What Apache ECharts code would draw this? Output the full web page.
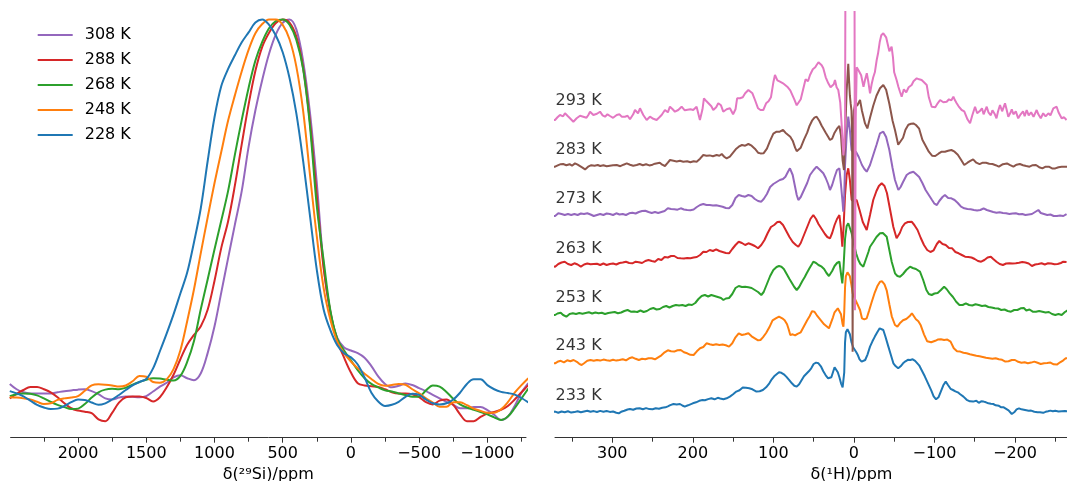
<!DOCTYPE html>
<html><head><meta charset="utf-8">
<script src="https://cdn.jsdelivr.net/npm/echarts@6/dist/echarts.min.js"></script>
<style>html,body{margin:0;padding:0;background:#fff}#c{width:1067px;height:481px}</style>
</head><body><div id="c"></div>
<script>
// ---------- Left panel: 29Si spectra (normalised intensity, %) ----------
const siPpm = [2500,2450,2400,2350,2300,2250,2200,2150,2100,2050,2000,1950,1900,1850,1800,1750,1700,1650,1600,1550,
1500,1450,1400,1350,1300,1250,1200,1150,1100,1050,1000,950,900,850,800,750,700,650,600,550,500,450,400,350,300,250,200,150,100,50,0,
-50,-100,-150,-200,-250,-300,-350,-400,-450,-500,-550,-600,-650,-700,-750,-800,-850,-900,-950,-1000,-1050,-1100,-1150,-1200,-1250,-1300];
const si228 = [1.8,1.2,0.4,-0.7,-1.8,-2.5,-2.9,-2.8,-2.1,-1.1,-0.4,-0.5,-1.2,-1.8,-1.4,-0.4,0.8,2.1,3.3,4.2,
5.0,7.8,12.3,17.0,22.0,27.5,33.0,41.0,50.0,62.3,73.8,82.1,86.6,90.2,93.6,96.2,98.8,99.6,98.2,95.4,91.0,84.2,74.9,62.3,47.9,33.7,23.3,17.8,13.9,11.8,10.7,
8.8,5.4,1.4,-0.9,-2.1,-1.8,-1.0,0.3,1.1,0.8,-0.4,-1.4,-1.7,-1.4,-0.4,1.4,3.7,4.9,4.9,3.4,2.3,1.6,1.3,0.9,0.0,-1.2];
const si248 = [0.2,0.1,-0.1,-0.4,-1.0,-1.6,-1.4,-0.5,-0.1,0.1,0.5,1.9,3.3,3.6,3.5,3.3,3.0,3.3,4.4,5.8,
5.6,4.2,4.0,4.9,7.6,12.5,20.2,28.6,38.2,47.5,56.5,64.8,73.0,79.7,86.0,91.6,96.0,98.4,99.6,99.6,98.2,94.4,87.2,75.5,58.7,42.5,28.9,20.5,14.8,11.8,9.6,
7.8,6.4,5.0,3.7,3.2,3.4,3.7,3.5,2.3,1.2,-0.1,-1.2,-2.3,-2.3,-1.1,-1.1,-1.9,-2.8,-3.4,-3.9,-3.9,-3.0,-1.1,1.4,3.4,5.2];
const si268 = [0.5,1.0,1.2,1.1,0.7,-0.1,-1.0,-1.8,-2.4,-2.9,-2.8,-1.6,0.1,1.5,2.2,2.4,2.3,2.7,3.5,4.2,
4.8,5.2,5.1,4.8,4.6,5.8,9.5,15.0,23.4,31.2,39.1,46.7,54.5,64.1,73.2,81.6,88.8,93.7,97.3,99.2,99.6,98.2,94.2,86.5,71.5,50.5,36.2,22.9,15.6,12.5,9.9,
7.3,5.2,3.7,2.8,2.0,1.7,1.2,0.8,0.3,0.4,2.0,3.3,3.0,1.6,-0.2,-1.7,-2.5,-3.1,-3.7,-4.3,-5.1,-5.8,-4.9,-2.7,-0.1,2.5];
const si288 = [-0.1,1.1,2.1,2.9,2.9,2.3,1.5,0.2,-1.4,-2.7,-3.3,-3.6,-4.0,-5.6,-6.1,-3.9,-1.2,0.2,0.4,0.4,
0.0,-0.9,0.2,2.8,6.1,10.2,14.0,16.6,18.9,23.2,30.8,39.5,46.5,56.0,66.8,77.2,86.1,92.4,96.1,98.7,99.6,98.8,95.1,86.8,72.5,53.0,34.1,22.5,15.1,10.6,6.7,
3.9,3.3,3.1,2.9,2.3,1.5,1.2,1.2,1.0,0.2,-1.1,-1.7,-0.7,-0.4,-1.8,-4.3,-6.1,-6.1,-5.0,-4.1,-3.7,-3.1,-2.1,-0.4,1.5,3.4];
const si308 = [3.7,2.3,1.5,1.2,1.2,1.2,1.2,1.5,1.8,2.0,2.2,2.3,1.8,1.0,-0.1,-0.4,0.1,0.4,0.3,0.2,
0.5,1.7,3.0,4.0,5.4,6.0,5.2,4.7,6.5,11.8,18.8,27.8,36.8,45.7,54.5,66.1,75.7,83.7,90.6,95.7,98.7,99.6,97.0,88.6,75.0,56.5,34.9,22.4,15.8,13.3,12.5,
11.8,10.6,8.4,5.7,3.7,2.8,3.2,3.8,3.4,2.6,1.8,0.8,-0.1,-1.0,-1.8,-2.7,-2.7,-2.4,-2.4,-3.2,-4.4,-5.8,-4.9,-2.1,1.4,3.9];
const siNames = ['308 K','288 K','268 K','248 K','228 K'];
const siTicks = [2000,1500,1000,500,0,-500,-1000];
const siMinorTicks = [2250,1750,1250,750,250,-250,-750,-1250];

// ---------- Right panel: 1H spectra, [ppm, intensity above own baseline] ----------
const hNames = ['233 K','243 K','253 K','263 K','273 K','283 K','293 K'];
const hOffsets = [25.4, 75.4, 123.7, 172.7, 222.7, 272.0, 320.4];
const hTicks = [300,200,100,0,-100,-200,-300];
const hMinorTicks = [350,250,150,50,-50,-150,-250,-350];

const h233 = [[375,0.5],[371,0.7],[367,-0.5],[363,0.8],[359,0],[355,1],[351,-0.3],[347,0.2],[343,1],[339,0],[335,0.8],[331,1.5],[327,0.5],[323,1.2],[319,0.3],[315,1.4],[311,0.6],[307,1.3],[303,0.4],[299,0.8],[295,-0.5],[292,-1],[289,0.5],[285,1.5],[281,2.8],[278,3.3],[274,2.5],[270,3.8],[266,4],[262,3],[258,4.2],[254,3.2],[250,3],[246,4],[242,3.5],[238,4.5],[234,5],[231,6],[228,7.2],[224,8.3],[220,7.8],[216,8.3],[213,6.8],[210,5.7],[206,7],[203,8],[200,9],[196,10],[192,11.5],[188,12.3],[185,12],[181,13.2],[177,14],[173,13],[169,14.5],[166,13.8],[162,13],[158,14],[154,15.7],[150,18],[146,20.7],[142,22],[138,24.7],[134,24.5],[130,24],[126,23],[121,20.7],[117,21],[113,22.3],[109,25],[105,29],[102,33],[99,36],[96,38],[93,40],[90,39.5],[87,38],[84,35.7],[80,32],[77,29],[74,26.5],[71,25.7],[68,28],[65,32],[62,36],[59,38.5],[56,41],[53,44],[50,48.3],[47,49.7],[44,49],[41,46],[38,41],[35,37],[32,34],[30,33],[28,35],[26,40],[24,45],[22,44],[20,40],[18,35],[16,29],[14,25],[13,24],[12,40],[11,70],[10,80],[9,82],[8,83],[7,82],[5,78],[3,70],[1,65],[-1,63],[-3,60],[-5,57],[-7,53],[-9.6,50.7],[-12,50],[-14,52.3],[-17,58],[-20,65.7],[-23,71],[-26,75.7],[-29,80],[-32,84],[-34,84.5],[-36.5,82.3],[-39,76],[-42.8,65.7],[-46,57],[-49,49],[-52,46],[-55,44],[-58,46],[-61,49],[-64,51],[-67,52.5],[-70,52.3],[-73,53],[-76,51.5],[-78,50.7],[-81,47],[-84,42.3],[-88,36],[-92,29],[-96,22],[-99,16],[-102,13],[-105,15],[-108,21],[-111,27],[-114,30.7],[-117,27],[-120,23.5],[-123,22.3],[-126,21],[-129,20],[-132,18],[-136,15.7],[-140,12.5],[-144,11],[-148,10.7],[-152,11.5],[-155,9.5],[-158,11],[-161,10.7],[-164,10],[-167,9],[-170,8.5],[-173,8.3],[-176,7],[-180,6.5],[-183,5],[-186,5],[-189,3.5],[-192,2],[-196,-1.7],[-199,0],[-202,3],[-205,4],[-208,3],[-211,2.5],[-214,2],[-217,1.5],[-220,1.7],[-224,0.5],[-228,0],[-231,0],[-235,-0.5],[-238,0.5],[-241,1],[-244,1.7],[-247,1],[-250,1.5],[-254,0.8],[-258,1],[-262,1.2],[-266,0.8]];

const h243 = [[375,-1],[371,-1],[368,0.5],[364,1.5],[360,0],[356,2],[352,1],[348,2.3],[344,0.5],[341,-1.5],[338,-2.7],[335,-1],[331,1.5],[327,2.3],[323,1.5],[319,2.3],[315,1.7],[311,2.7],[307,2],[303,1.5],[299,2.5],[295,1.7],[291,2.3],[287,3],[283,2],[279,4],[275,5],[271,3.5],[267,2.3],[263,3.5],[259,3],[255,4],[251,4],[247,3],[243,5],[239,7],[235,10],[231,12],[227,11],[223,10.7],[219,12],[215,12.3],[211,10],[207,9],[203,7.5],[199,7.3],[195,11],[191,14],[187,15.3],[183,19],[179,18],[175,17.3],[171,18],[167,17.3],[163,17.7],[159,17],[155,15.7],[151,19],[147,25],[143,29],[139,27.3],[135,28],[131,29],[127,26],[123,24],[119,22],[116,22.3],[113,25],[109,29.3],[105,35],[101,42],[97,44],[93,45.7],[89,44],[86,42],[83,38],[81,33],[79,27.3],[76,28],[73,27],[70,28.5],[66,30],[62,36],[58,42],[55,46],[52,51],[49,50.6],[46,47],[43,44],[40,41],[37,38],[34,36],[31,34],[29,35],[26,45],[24,50],[22,52],[20,54],[18,55.6],[16,48],[14,38],[13,35.6],[12,50],[11,75],[10,86],[8,90],[7,90.6],[5,86],[3,77],[1.5,69],[0,66],[-2,62],[-5,57],[-7.6,52.3],[-10,44],[-13,43],[-15.9,44],[-19,52],[-22,60],[-26,70],[-29,76],[-32.4,80.6],[-35,81],[-38,78],[-40.7,72],[-44,58],[-47,46],[-51,37.3],[-54,35.7],[-57,39],[-61,42],[-65,43.3],[-69,46],[-72,49],[-74,47.3],[-77,43],[-80,41],[-83,37],[-87,28],[-91,21],[-96,20],[-101,21.5],[-104,22.7],[-108,23],[-112,22.3],[-116,22.7],[-120,20.7],[-124,14],[-128,11],[-132,10.7],[-136,9.5],[-140,9],[-144,8],[-148,7.3],[-152,6.5],[-156,6],[-160,5.3],[-164,4.5],[-168,4],[-172,3.5],[-176,4],[-180,3],[-184,2.5],[-188,0.7],[-192,1],[-196,2.3],[-200,2.3],[-204,0.5],[-208,-0.5],[-212,0],[-216,-1],[-220,-0.3],[-224,0.7],[-228,-0.5],[-232,-1.7],[-236,-1],[-240,-0.7],[-244,-0.3],[-248,-2],[-252,-2.3],[-256,0],[-260,2],[-263,4],[-266,4]];

const h253 = [[375,-1],[371,-1],[368,0.5],[364,1.3],[361,-1],[357,-2.7],[353,0],[349,0.7],[345,0],[341,1],[337,0.3],[333,1],[329,1.7],[325,0.5],[321,1.5],[317,0.7],[313,1.2],[309,0],[305,1],[301,1.5],[297,2],[293,0.7],[289,1.5],[285,3],[281,4],[277,2.3],[273,2.5],[269,2],[265,3.5],[261,2],[257,3],[253,5],[249,6],[245,4.5],[241,5],[237,7],[233,8],[229,6.5],[225,8],[221,9],[217,8.5],[213,9],[209,8],[205,9.5],[201,9],[197,11],[193,15],[189,18],[185,19],[181,17.5],[177,19],[173,18],[169,17],[165,16],[162,14],[159,15.5],[155,16],[151,20],[147,26],[143,28],[139,27],[135,27.3],[131,26.7],[127,26],[123,24],[119,22],[115,19],[112,22],[108,30],[104,38],[100,44],[96,47],[93,48],[90,47.3],[87,45],[84,40.7],[80,35],[77,31],[74,27],[71,24],[68,27],[64,33],[61,37],[58.6,40.7],[55,46],[52,50],[50.4,52.3],[47,51],[44,49],[40,47.3],[37,45],[34,41],[31,38],[29.7,37.3],[27,43],[24,48],[21,51],[18,52.3],[16,40],[14.4,30.7],[13,45],[11,75],[9,88],[7,90.7],[5,86],[2.8,80.7],[0,70],[-3,60],[-5.5,54],[-8,50],[-11.7,47.3],[-15,55],[-18,62],[-20,67.3],[-24,72],[-28,77],[-32.4,80.7],[-36,81],[-40.7,77.3],[-44,64],[-47,52],[-51,40.7],[-54,38],[-57.3,37.3],[-61,40],[-65,44],[-69.7,47.3],[-73,46],[-77,45],[-82,42.3],[-86,34],[-90,24],[-93,20],[-96.6,19],[-100,20.5],[-104,21],[-108,24],[-112,27.3],[-115,25],[-119,20.7],[-123,17],[-127,12.3],[-131,9],[-135,9],[-139,10.7],[-143,9],[-147,8.5],[-151,9.7],[-155,9],[-159,8],[-163,8.5],[-167,7],[-171,6.5],[-175,5.7],[-179,5.5],[-183,4],[-187,4.5],[-191,3],[-195,2.3],[-199,4],[-203,4],[-207,5.7],[-211,6],[-214,3.5],[-218,4.5],[-222,2.3],[-226,2.3],[-230,3],[-234,2.3],[-238,1.5],[-242,2],[-246,0],[-250,-1],[-254,0],[-258,-1],[-262,2],[-266,4]];

const h263 = [[375,-1],[371,-1.7],[367,1],[363,2.5],[359,3.3],[355,1],[351,0],[347,1.7],[343,0.5],[339,-1.7],[335,0.5],[331,1.5],[327,0.7],[323,1],[319,1.2],[315,0],[311,1.5],[307,0],[303,1],[299,1.5],[295,0.5],[291,2],[287,2.5],[283,3.3],[279,2],[275,1.7],[271,3.3],[267,2.8],[263,2],[259,4],[255,5],[251,4],[247,3.3],[243,6],[239,5],[235,8],[231,7.5],[227,9],[223,9],[219,7],[215,6.7],[211,6.5],[207,7],[203,6.7],[199,7.5],[195,8],[191,10],[187,13.3],[183,13],[179,15],[175,14],[171,15.7],[167,14],[163,13],[159,12],[155,11.7],[151,16],[147,20],[143,23.3],[139,22],[135,20],[131,21.7],[127,20.5],[123,19],[119,16.7],[115,20],[111,25],[107,32],[103,38],[99,40],[95,43],[92,43.3],[88,40],[84,34],[80,28],[76,23],[72,20],[69,18.3],[66,22],[62,30],[58,38],[54,46],[50.4,50],[47,46],[44,41],[40,36],[36,31],[33,28],[29.7,26.7],[27,32],[24,40],[21,46],[18,50],[16,36],[14.4,18.3],[13,35],[11,70],[9,90],[7,96.7],[5,85],[2.8,65],[0,64],[-3.4,65],[-7,55],[-11,43],[-15.9,35],[-20,50],[-24,65],[-28,74],[-31,79],[-34.5,81.7],[-38,79],[-41,72],[-45,55],[-48.9,38.3],[-53,26.7],[-57,32],[-60,38],[-63.4,41.7],[-67,43],[-71.7,43.3],[-75,40],[-79,35],[-83,27],[-87,20],[-91,15],[-95,13],[-99,14.7],[-103,21],[-106,24],[-110,21],[-114,20],[-118,17],[-122,16.7],[-126,13],[-130,11.7],[-134,10],[-138,8.3],[-142,8],[-146,7.5],[-150,6],[-154,4],[-158,3.3],[-162,5],[-166,7.5],[-170,8.3],[-173,6],[-177,3.3],[-181,1],[-185,0],[-189,1.5],[-193,1.7],[-197,1.5],[-201,1.7],[-205,2.3],[-209,3],[-213,2.5],[-217,1.5],[-221,-1],[-225,0.5],[-229,1],[-233,1.7],[-237,0.5],[-241,1.7],[-245,1.5],[-249,0.7],[-253,1],[-257,2],[-260,3.3],[-264,3]];

const h273 = [[375,-1],[371,-1],[367,1.7],[363,1],[359,0],[355,1],[351,0],[347,1],[343,0],[339,1.5],[335,1],[331,1.7],[327,0.5],[323,-1],[319,0],[315,1],[311,0],[307,1.5],[303,1],[299,0],[295,1.7],[291,0.5],[287,1],[283,0],[279,1.7],[275,2.3],[271,1.5],[267,3],[263,4],[259,4.3],[255,3],[251,2],[247,3],[243,2],[239,3],[235,4],[231,6.7],[227,6],[223,5.7],[219,5.3],[215,6.7],[211,5.5],[207,5],[203,4.7],[199,5.5],[195,8],[191,10],[187,11],[183,10],[179,10],[175,9.5],[171,9.7],[167,9],[163,8.3],[159,7],[155,6.7],[151,10],[147,17],[143,20],[139,19],[135,18.3],[131,20],[127,19],[123,16],[119,14],[115,13.3],[112,16],[108,21],[104,28],[100,31],[96,33],[92,35],[88,36],[85,38.3],[82,43],[79.4,46.7],[76,40],[73,28],[71,20],[69,15],[66,18],[62,25],[58,32],[54.5,40],[50,45],[46.3,48.3],[42,45],[38,41.7],[35,37],[32,31],[29.7,25],[27,30],[24,38],[21,45],[18,46.7],[16,30],[14,12],[13.2,3.3],[12,20],[11,50],[9,80],[7,98.3],[5,85],[3,65],[0,62],[-2.5,63.3],[-6,58],[-10,50],[-13,46],[-15.9,43.3],[-20,50],[-24,60],[-28,70],[-32.4,81.7],[-36.5,83.3],[-40,78],[-44,65],[-48,47],[-51,35],[-55.2,25],[-58,28],[-61,33],[-65.5,40],[-69,42],[-73.8,43.3],[-77,41],[-81,38],[-85,32],[-89,25],[-93,20],[-97,15],[-100,11.3],[-103,10],[-106,14],[-110,18],[-113,20],[-117,17],[-121,16.7],[-125,15],[-129,12],[-133,8.3],[-137,6.7],[-141,6],[-145,5.7],[-149,5],[-153,4.5],[-157,5],[-161,6.7],[-165,5],[-169,4],[-173,3],[-177,2.3],[-181,2.7],[-185,2],[-189,1.7],[-193,1],[-197,1.5],[-201,1.7],[-205,0.7],[-209,1],[-213,0],[-217,0.5],[-221,1],[-225,3],[-229,5],[-232,2],[-236,1],[-240,0],[-244,0.5],[-248,-1],[-252,-1],[-256,-0.5],[-260,-1],[-264,1]];

const h283 = [[375,-1],[371,-1],[367,0.5],[364,1.5],[361,1.7],[357,0.5],[353,1.5],[350,0],[346.3,2.3],[343,1],[340,-0.5],[337,-2],[333.8,-3.7],[330,-1],[326,0.5],[322,0],[318,0.7],[315,-0.3],[311,0.5],[307,-0.5],[303,0],[299,0.5],[294.5,0.7],[290,-0.5],[286,1],[282,2.3],[278,1],[274,0],[269.7,0.7],[266,1.7],[262,0.5],[258,1.5],[254,0.3],[250,1],[247,2],[244.8,4],[241,3],[238,1],[234.6,-0.3],[231,3],[228.3,5.7],[224,5],[220,4.3],[216,5],[211.8,4],[207,4.5],[203,3.5],[199,4.5],[195.2,4],[191,7],[187,10.7],[183,10],[179,10.3],[175,9.5],[170.4,10.7],[167,10],[164.1,11.7],[161,9],[158,7.3],[154,9],[150,13],[146,17],[143,19],[139,20.7],[135,20],[131,21.7],[127,20],[123,17],[119,13],[116,12.3],[112,12.5],[108,17],[104,25],[100,32],[96,34],[92,34],[88,35.7],[85,33],[82,31],[79,29],[76,25],[73,18],[71,14.5],[69,14],[66,18],[62,26],[58,33],[55,40],[52,45],[49,48],[46.3,49],[43,45],[40,40],[38,37.3],[35,33],[32,29],[29.7,25.7],[27,27],[24,33],[21,37],[18,39.7],[16,30],[14,5],[12.3,-4.3],[11,30],[9,75],[7,102],[6,85],[5,70],[4,62],[3,55],[2.2,30],[1.6,-186],[1,30],[0,55],[-1.5,62],[-4,60],[-7.6,65.7],[-10,55],[-13.8,42.3],[-16.7,37.3],[-20,48],[-24,60],[-28,70],[-32.4,77.4],[-36.5,80.7],[-40,76],[-44,62],[-48,45],[-51,35.7],[-55,21],[-57.3,19],[-61,28],[-64,36],[-67.6,41],[-71,42],[-73.8,42.3],[-77,40.7],[-81,37],[-85,26],[-89,20],[-93,14],[-97,10],[-101,9.7],[-105,12],[-109,14],[-113,14],[-117,15],[-121,15.7],[-125,14],[-129,11],[-133,6],[-137,0.7],[-141,3],[-144,4.5],[-148,6.3],[-152,3],[-156,1.5],[-160,3],[-164,3],[-168,2],[-172,1.7],[-176,0.5],[-180,-1],[-185,1.5],[-190,2.3],[-194,0.5],[-198,-1],[-202,1],[-206,1.7],[-210,0.5],[-214,-0.3],[-218,-1],[-222,0.5],[-226,0.7],[-230,-1.5],[-234,-2.7],[-238,-1],[-242,-1],[-246,-2.7],[-250,-2.7],[-254,-1.5],[-258,-1],[-262,-1],[-266,-1]];

const h293 = [[375,-3],[371.1,-2.7],[368,0],[364.9,2.3],[361,1],[358.7,4],[355,1],[352.5,-1],[348.3,-4.4],[344.2,-1],[340,1.5],[336,0.6],[332,-0.5],[329.7,2.3],[327.6,5.6],[323.5,2.3],[319,3.5],[315.2,5.6],[312,2],[309,0.6],[306,3],[302.8,1.3],[299,-0.5],[294.5,2.3],[291,3],[288.3,0.6],[284.2,0.6],[281,1.5],[278,-2],[274,3],[271.8,7.3],[268,4],[265.6,9],[261.5,2.3],[257.3,-2.7],[253.2,0.6],[249,-1.5],[244.9,-2.7],[241.5,0],[238.7,2.3],[234.6,7.3],[231,5],[228.4,10.6],[225,8],[222.2,5.6],[218.1,7.3],[213.9,10.6],[210,7],[207.7,5.6],[203,8],[199.5,7.3],[195.3,10.6],[191.2,-2.7],[188,8],[186.2,19],[183,16],[180.8,17.3],[177,11],[174.6,7.3],[171,10],[168.4,14],[165,12],[162.2,5.6],[158,8],[153.9,9],[150,3],[147,8],[145,19],[141.4,19],[138,20],[135,24],[131,27.3],[129,27.3],[126,24],[122.8,17.3],[119,9],[116,7.3],[112.5,7.3],[109,14],[106,16],[103,20],[100,35],[98,42.3],[95,37],[91.8,35.7],[88,34],[85,32],[82,30],[79,27],[77.3,25.7],[74,18],[71,12],[69,10.6],[66,18],[63,28],[60,38],[57,36],[54.5,42.3],[51,48],[48,50],[46.3,52.3],[44,55],[42.1,55.6],[40,52],[38,49],[35,40],[31.8,34],[29,30],[27,28],[25,33],[23.5,37.3],[21.5,30],[19.4,27.3],[17,15],[15,-10],[14,-25],[13,-38],[12,-30],[11,-5],[10,300],[9,400],[1,400],[-0.5,300],[-1.3,-193],[-2.3,0],[-3.5,50],[-5.5,47.3],[-7.7,47.3],[-9,42],[-11.9,30.6],[-14,38],[-16,44],[-18,35],[-20,24],[-22,33],[-24,40],[-26,45],[-28.3,57.3],[-30,64],[-32,75],[-34,82],[-36.5,84],[-38.5,82],[-40,80],[-42,73],[-44,66],[-46.8,70.6],[-48.5,60],[-50,45],[-53,37.3],[-55.2,30.6],[-57,26],[-59.3,20.6],[-62,28],[-65,25],[-68,30],[-71.7,32.3],[-74,36],[-76,38],[-78,39],[-81,38],[-84.1,37.3],[-87,35],[-90.4,32.3],[-93,20],[-96.6,10.6],[-99,12],[-101,10],[-104,14],[-107,17.3],[-111,15],[-115.2,15.6],[-118,18],[-121,17],[-123.5,20.6],[-125.5,17],[-127.6,14],[-130,11],[-133.8,7.3],[-137,6],[-139,2],[-141,-2],[-144.2,-6],[-147,2],[-150.4,10.6],[-153,4],[-156,6],[-159,9],[-161,3],[-164.9,10.6],[-167,5],[-170,2],[-172,7],[-175,3],[-177,-1],[-179,6],[-181.4,12.3],[-184,6],[-187.6,14],[-189.5,8],[-191.7,0.6],[-194,4],[-196,8],[-198,3],[-201,6],[-204,-1],[-207,3],[-210,6],[-212,1],[-214.5,7.3],[-217,2],[-220,5],[-223,0.5],[-226.9,7.3],[-229,3],[-232,-1],[-235,4],[-238,1],[-241.4,4],[-244,2],[-247.6,9],[-251.7,10.6],[-254,5],[-257.9,-1],[-261,0],[-264,-2.7]];

// ---------- Build chart ----------
const FONT = 'DejaVu Sans';
const fmt = v => (v < 0 ? '\u2212' + Math.abs(v) : String(v));
const siSets = [si308, si288, si268, si248, si228];
const siColors = ['#9467bd','#d62728','#2ca02c','#ff7f0e','#1f77b4'];
const hSets = [h233, h243, h253, h263, h273, h283, h293];
const hColors = ['#1f77b4','#ff7f0e','#2ca02c','#d62728','#9467bd','#8c564b','#e377c2'];

const SI_MIN = -1283, SI_MAX = 2494;
const H_MIN = -365, H_MAX = 371.1;

function majorAxis(gridIndex, min, max, ticks, name) {
  return {type:'value', gridIndex, min, max, inverse:true, position:'bottom',
    name, nameLocation:'middle', nameGap:25,
    nameTextStyle:{fontFamily:FONT, fontSize:16, color:'#000'},
    axisLine:{show:true, onZero:false, lineStyle:{color:'#333', width:1}},
    axisTick:{show:true, customValues:ticks, length:5, lineStyle:{color:'#333', width:1}},
    axisLabel:{show:true, customValues:ticks, formatter:fmt, margin:8, fontFamily:FONT, fontSize:16, color:'#000'},
    splitLine:{show:false}};
}
function minorAxis(gridIndex, min, max, ticks) {
  return {type:'value', gridIndex, min, max, inverse:true, position:'bottom', offset:0,
    axisLine:{show:false, onZero:false},
    axisTick:{show:true, customValues:ticks, length:4, lineStyle:{color:'#333', width:1}},
    axisLabel:{show:false}, splitLine:{show:false}};
}

const series = [];
siSets.forEach((vals, i) => {
  series.push({type:'line', name:siNames[i], xAxisIndex:0, yAxisIndex:0,
    data: siPpm.map((p, j) => [p, vals[j]]),
    showSymbol:false, smooth:0.35, silent:true,
    lineStyle:{width:2, color:siColors[i]}, itemStyle:{color:siColors[i]}});
});
hSets.forEach((arr, i) => {
  series.push({type:'line', name:hNames[i], xAxisIndex:2, yAxisIndex:1,
    data: arr.map(([p, v]) => [p, v + hOffsets[i]]),
    showSymbol:false, smooth:false, silent:true,
    lineStyle:{width:2, color:hColors[i]}, itemStyle:{color:hColors[i]}});
});
series.push({type:'scatter', xAxisIndex:2, yAxisIndex:1, symbolSize:1, clip:false, silent:true,
  itemStyle:{color:'rgba(0,0,0,0)'},
  data: hNames.map((t, i) => ({name:t, value:[H_MAX, hOffsets[i] + 16]})),
  label:{show:true, position:'right', distance:0, formatter:'{b}', fontFamily:FONT, fontSize:16, color:'#000'}});

const chart = echarts.init(document.getElementById('c'));
chart.setOption({
  animation:false,
  backgroundColor:'#fff',
  textStyle:{fontFamily:FONT},
  grid:[
    {left:10.6, top:10, width:515.4, height:427.7, outerBoundsMode:'none', containLabel:false},
    {left:555, top:12, width:592.9, height:425.7, outerBoundsMode:'none', containLabel:false}
  ],
  xAxis:[
    majorAxis(0, SI_MIN, SI_MAX, siTicks, 'δ(²⁹Si)/ppm'),
    minorAxis(0, SI_MIN, SI_MAX, siMinorTicks),
    majorAxis(1, H_MIN, H_MAX, hTicks, 'δ(¹H)/ppm'),
    minorAxis(1, H_MIN, H_MAX, hMinorTicks)
  ],
  yAxis:[
    {type:'value', gridIndex:0, min:-10.45, max:102.1, show:false},
    {type:'value', gridIndex:1, min:0, max:425.7, show:false}
  ],
  legend:{data:siNames, orient:'vertical', left:37.7, top:25, padding:0, itemWidth:35, itemHeight:2, itemGap:5,
    icon:'rect', selectedMode:false,
    textStyle:{fontFamily:FONT, fontSize:16, color:'#000', lineHeight:20, padding:[0,0,0,7]}},
  series
});
</script>
</body></html>
